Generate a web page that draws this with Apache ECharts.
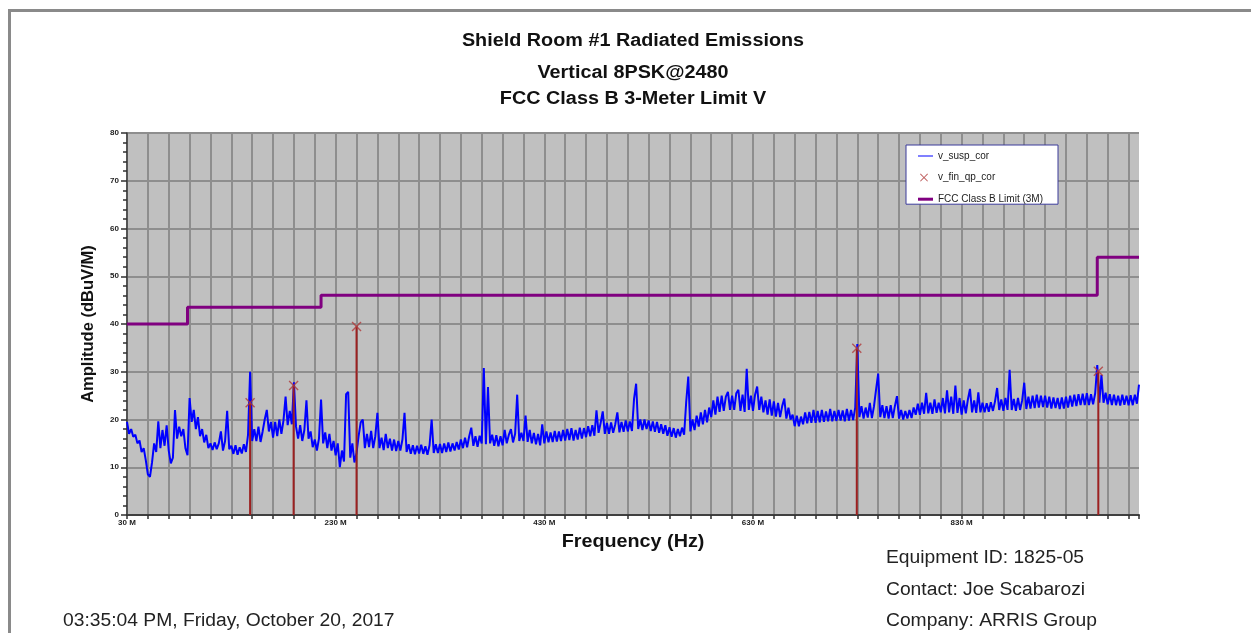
<!DOCTYPE html>
<html>
<head>
<meta charset="utf-8">
<script src="https://cdn.jsdelivr.net/npm/echarts@6/dist/echarts.min.js"></script>
<style>
  html, body { margin: 0; padding: 0; background: #ffffff; }
  #chart { width: 1251px; height: 633px; }
</style>
</head>
<body>
<div id="chart"></div>
<script>
// Peak sweep: 30 MHz to 1000 MHz in 2 MHz steps (one row = one 20 MHz grid cell)
const sweepStartMHz = 30;
const sweepStepMHz = 2;
const suspAmp = [
  19.5, 17.0, 18.0, 16.4, 16.8, 15.0, 15.6, 13.2, 14.0, 11.5,
  8.5, 8.0, 11.0, 15.0, 13.2, 19.6, 14.0, 17.8, 14.5, 18.8,
  13.5, 10.8, 12.0, 22.0, 16.0, 18.5, 16.5, 18.0, 14.0, 12.5,
  24.5, 19.5, 22.0, 18.0, 20.5, 16.5, 18.0, 15.2, 16.8, 14.0,
  15.0, 13.6, 15.2, 13.8, 15.0, 17.5, 13.5, 15.5, 21.8, 13.8,
  14.5, 12.8, 14.6, 12.6, 14.2, 12.9, 14.8, 13.2, 16.8, 30.0,
  15.5, 18.0, 15.5, 18.5, 15.3, 17.5, 20.0, 22.0, 17.5, 19.5,
  16.2, 19.5, 16.5, 20.0, 17.0, 19.8, 24.8, 18.8, 21.8, 19.0,
  27.8, 18.5, 16.0, 18.8, 15.5, 17.8, 24.0, 16.0, 17.5, 14.2,
  15.8, 13.5, 16.0, 24.2, 15.0, 17.3, 14.0, 17.0, 13.5, 15.5,
  12.5, 15.0, 10.0, 13.5, 11.2, 25.3, 25.8, 12.0, 15.0, 11.0,
  13.0, 16.5, 19.4, 20.0, 14.0, 17.0, 14.2, 17.6, 14.0, 16.5,
  21.4, 14.0, 16.2, 13.6, 17.0, 14.0, 16.0, 13.5, 15.8, 13.4,
  15.5, 13.5, 15.8, 21.4, 13.2, 14.8, 12.8, 14.6, 12.7, 14.5,
  12.9, 14.7, 12.8, 14.4, 12.6, 14.6, 20.0, 13.0, 14.8, 13.0,
  14.9, 13.0, 15.0, 13.2, 15.2, 13.3, 15.0, 13.5, 15.3, 13.7,
  15.8, 14.0, 16.2, 14.2, 16.5, 18.3, 14.5, 16.5, 14.3, 16.6,
  15.0, 30.8, 14.8, 26.8, 15.0, 16.8, 14.5, 16.7, 14.4, 16.5,
  14.6, 17.8, 15.0, 16.8, 18.0, 15.2, 17.0, 25.2, 15.5, 17.2,
  15.5, 20.8, 15.3, 17.8, 15.0, 17.2, 14.8, 17.0, 14.6, 19.0,
  15.0, 17.5, 15.2, 17.3, 15.3, 17.6, 15.4, 17.5, 15.5, 17.8,
  15.6, 18.0, 15.7, 18.2, 15.6, 17.8, 15.8, 18.3, 16.0, 18.2,
  16.3, 18.6, 16.5, 18.8, 16.6, 21.9, 17.2, 19.3, 21.7, 17.0,
  19.3, 17.0, 19.4, 17.2, 19.0, 21.5, 17.3, 19.5, 17.4, 19.8,
  17.5, 19.6, 17.6, 24.3, 27.5, 18.0, 20.0, 17.8, 20.0, 18.0,
  19.8, 17.6, 19.6, 17.4, 19.5, 17.2, 19.0, 17.0, 18.8, 16.6,
  18.4, 16.4, 18.2, 16.2, 18.0, 16.5, 18.3, 16.8, 23.7, 29.0,
  17.5, 20.0, 17.8, 20.8, 18.5, 21.5, 19.0, 22.0, 19.4, 22.5,
  20.5, 24.0, 21.0, 24.8, 21.6, 25.0, 21.8, 24.8, 25.8, 22.0,
  25.0, 22.0, 25.5, 26.2, 21.8, 25.2, 21.6, 30.6, 22.0, 25.0,
  21.8, 25.2, 26.9, 22.0, 24.8, 21.5, 24.0, 21.0, 24.2, 20.8,
  23.8, 20.6, 23.5, 20.5, 22.8, 24.4, 20.2, 22.5, 20.0, 21.0,
  18.6, 20.8, 18.6, 20.6, 19.0, 21.5, 19.2, 21.6, 19.3, 22.0,
  19.3, 21.8, 19.4, 22.0, 19.5, 21.7, 19.6, 22.2, 19.6, 21.8,
  19.7, 22.0, 19.8, 21.9, 19.6, 22.2, 19.8, 22.0, 19.9, 22.5,
  35.8, 20.5, 22.8, 20.2, 22.5, 20.4, 23.5, 20.3, 22.8, 26.3,
  29.6, 20.5, 23.0, 20.3, 22.8, 20.2, 23.0, 20.3, 22.8, 24.9,
  20.2, 22.0, 20.0, 21.8, 20.2, 22.0, 20.3, 22.5, 21.0, 23.3,
  21.0, 23.5, 21.2, 25.6, 21.3, 23.5, 21.2, 24.2, 21.4, 23.5,
  21.5, 24.5, 21.3, 26.1, 21.5, 24.8, 21.2, 27.1, 21.4, 24.5,
  21.0, 24.0, 21.3, 24.2, 26.4, 21.5, 24.0, 21.4, 25.7, 21.5,
  23.5, 21.5, 23.4, 21.6, 23.6, 21.8, 23.8, 26.6, 22.0, 24.2,
  21.8, 24.5, 22.0, 30.4, 22.0, 24.3, 21.8, 24.5, 22.0, 24.0,
  27.7, 22.2, 24.8, 22.3, 25.0, 22.4, 25.2, 22.5, 25.0, 22.6,
  25.0, 22.5, 24.8, 22.3, 24.6, 22.4, 24.5, 22.2, 24.6, 22.3,
  24.8, 22.5, 25.0, 22.7, 25.2, 22.8, 25.3, 23.0, 25.4, 23.0,
  25.5, 23.0, 25.3, 23.2, 25.5, 31.4, 23.5, 29.3, 23.5, 25.6,
  23.2, 25.3, 23.0, 25.2, 23.0, 25.0, 22.9, 25.2, 23.1, 25.0,
  23.0, 25.1, 23.0, 25.2, 23.3, 27.3
];

// FCC Class B 3 m limit (dBuV/m), stepped
const limitFreq = [30, 88, 88, 216, 216, 960, 960, 1000];
const limitAmp = [40, 40, 43.5, 43.5, 46, 46, 54, 54];

// Final quasi-peak measurements
const qpFreq = [148, 189.7, 250, 729.5, 961];
const qpAmp = [23.5, 27.1, 39.5, 34.9, 30.1];

// Labelled frequency ticks (MHz)
const xLabelFreqs = [30, 230, 430, 630, 830];

const FONT = '"Liberation Sans", Arial, Helvetica, sans-serif';
const X_SYMBOL = 'path://M0,1L1,0L5,4L9,0L10,1L6,5L10,9L9,10L5,6L1,10L0,9L4,5Z';

const suspData = suspAmp.map((a, i) => [sweepStartMHz + i * sweepStepMHz, a]);
const limitData = limitFreq.map((f, i) => [f, limitAmp[i]]);
const qpData = qpFreq.map((f, i) => [f, qpAmp[i]]);

// page text, slightly widened like the report generator's output
function label(text, x, y, size, bold, stretch, align, fill) {
  return {
    type: 'text', x: x, y: y, scaleX: stretch, silent: true,
    style: {
      text: text, fontSize: size, fontWeight: bold ? 'bold' : 'normal',
      fontFamily: FONT, fill: fill, align: align, verticalAlign: 'middle'
    }
  };
}

const chart = echarts.init(document.getElementById('chart'), null, { renderer: 'canvas' });

chart.setOption({
  animation: false,
  backgroundColor: '#ffffff',
  grid: {
    left: 127, top: 133, width: 1012, height: 382,
    show: true, backgroundColor: '#c0c0c0', borderWidth: 0
  },
  xAxis: {
    type: 'value', min: 30, max: 1000, interval: 20,
    axisLine: { show: true, onZero: false, lineStyle: { color: '#404040', width: 2 } },
    axisTick: { show: true, length: 4, lineStyle: { color: '#303030', width: 1.5 } },
    axisLabel: {
      show: true, margin: 4, fontSize: 8, fontWeight: 'bold', fontFamily: FONT, color: '#222',
      formatter: v => xLabelFreqs.includes(Math.round(v)) ? Math.round(v) + ' M' : ''
    },
    splitLine: { show: true, showMaxLine: false, lineStyle: { color: '#8e8e8e', width: 2 } }
  },
  yAxis: {
    type: 'value', min: 0, max: 80, interval: 10,
    axisLine: { show: true, lineStyle: { color: '#404040', width: 1.5 } },
    axisTick: { show: true, length: 6, lineStyle: { color: '#303030', width: 1.5 } },
    minorTick: { show: true, splitNumber: 5, length: 4, lineStyle: { color: '#303030', width: 1.5 } },
    axisLabel: { show: true, margin: 8, fontSize: 8, fontWeight: 'bold', fontFamily: FONT, color: '#222' },
    splitLine: { show: true, lineStyle: { color: '#8e8e8e', width: 2 } }
  },
  legend: {
    orient: 'vertical', left: 906, top: 145,
    backgroundColor: '#ffffff', borderColor: '#3a3a9a', borderWidth: 1,
    padding: [6, 15, 0, 12],
    itemWidth: 15, itemHeight: 10, itemGap: 11.6,
    textStyle: { fontSize: 10, fontFamily: FONT, color: '#222', lineHeight: 10 },
    data: [
      { name: 'v_susp_cor', icon: 'path://M0,0L0,0M15,10L15,10M0,4.5H15V5.5H0Z' },
      { name: 'v_fin_qp_cor', icon: 'path://M0,0L0,0M15,10L15,10M2,1.7L2.7,1L6,4.3L9.3,1L10,1.7L6.7,5L10,8.3L9.3,9L6,5.7L2.7,9L2,8.3L5.3,5Z' },
      { name: 'FCC Class B Limit (3M)', icon: 'path://M0,0L0,0M15,10L15,10M0,3.5H15V6.5H0Z' }
    ]
  },
  series: [
    {
      name: 'v_susp_cor', type: 'line', data: suspData,
      showSymbol: false, symbol: 'none', color: '#0000ff',
      lineStyle: { color: '#0000ff', width: 2 }, z: 2, silent: true
    },
    {
      name: 'FCC Class B Limit (3M)', type: 'line', data: limitData,
      showSymbol: false, symbol: 'none', color: '#800080',
      lineStyle: { color: '#800080', width: 3 }, z: 3, silent: true
    },
    {
      name: 'qpDrop', type: 'custom', data: qpData, z: 4, silent: true,
      renderItem: (params, api) => {
        const top = api.coord([api.value(0), api.value(1)]);
        const base = api.coord([api.value(0), 0]);
        return {
          type: 'line',
          shape: { x1: top[0], y1: top[1], x2: base[0], y2: base[1] },
          style: { stroke: '#9c2020', lineWidth: 2 }
        };
      }
    },
    {
      name: 'v_fin_qp_cor', type: 'scatter', data: qpData,
      symbol: X_SYMBOL, symbolSize: 10, color: '#b03a3a',
      itemStyle: { color: '#b03a3a' }, z: 5, silent: true
    }
  ],
  graphic: [
    // page frame
    { type: 'rect', shape: { x: 8, y: 9, width: 1243, height: 3 }, style: { fill: '#8a8a8a' }, silent: true },
    { type: 'rect', shape: { x: 8, y: 9, width: 3, height: 624 }, style: { fill: '#8a8a8a' }, silent: true },
    // titles
    label('Shield Room #1 Radiated Emissions', 633, 41, 18, true, 1.1, 'center', '#111'),
    label('Vertical 8PSK@2480', 633, 73, 18, true, 1.1, 'center', '#111'),
    label('FCC Class B 3-Meter Limit V', 633, 99, 18, true, 1.1, 'center', '#111'),
    // axis names
    label('Frequency (Hz)', 633, 542, 19, true, 1.04, 'center', '#111'),
    {
      type: 'text', x: 88, y: 324, rotation: Math.PI / 2, silent: true,
      style: { text: 'Amplitude (dBuV/M)', fontSize: 16.5, fontWeight: 'bold', fontFamily: FONT, fill: '#111', align: 'center', verticalAlign: 'middle' }
    },
    // footer
    label('Equipment ID: 1825-05', 886, 558, 18, false, 1.07, 'left', '#222'),
    label('Contact: Joe Scabarozi', 886, 590, 18, false, 1.07, 'left', '#222'),
    label('Company: ARRIS Group', 886, 621, 18, false, 1.07, 'left', '#222'),
    label('03:35:04 PM, Friday, October 20, 2017', 63, 621, 18, false, 1.07, 'left', '#222')
  ]
});
</script>
</body>
</html>
